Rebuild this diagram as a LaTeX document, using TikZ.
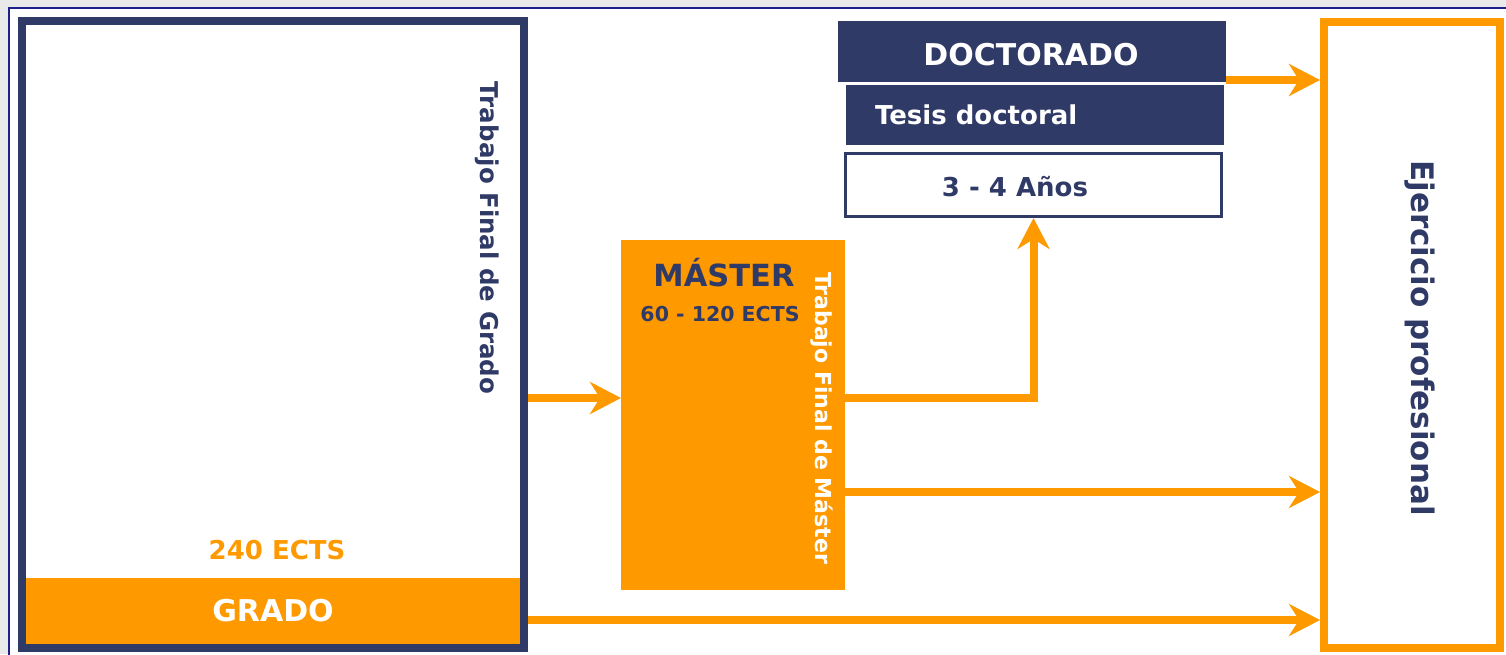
\documentclass[tikz,border=0pt]{standalone}
\usepackage{fontspec}
\setmainfont{DejaVu Sans}
\usetikzlibrary{arrows.meta}
\definecolor{navy}{RGB}{48,58,102}
\definecolor{orng}{RGB}{255,153,0}
\definecolor{bggray}{RGB}{233,233,233}
\definecolor{framecol}{RGB}{30,30,140}
\tikzset{
  fs/.style={font=\fontsize{#1}{#1}\selectfont\bfseries},
  txt/.style={inner sep=0pt, outer sep=0pt},
  arr/.style={draw=orng, line width=8pt, -{Stealth[length=31pt,width=32pt,inset=10pt]}},
  navybox/.style={fill=navy, inner sep=0pt, outer sep=0pt},
}
\begin{document}
\begin{tikzpicture}[x=1pt,y=-1pt]
\useasboundingbox (0,0) rectangle (1506,654);
\fill[bggray] (0,0) rectangle (1506,654);
\filldraw[fill=white, draw=framecol, line width=1.5pt] (9,8) rectangle (1520,670);

% Grado box
\node[draw=navy, fill=white, line width=8pt, minimum width=502pt, minimum height=627pt, inner sep=0pt] (grado) at (273,334.5) {};
\fill[orng] (26,578) rectangle (520,644);
\node[txt, fs=30, text=white] (gradot) at (273,611) {GRADO};
\node[txt, fs=26, text=orng] (gects) at (277,550) {240 ECTS};
\node[txt, fs=24.5, text=navy, rotate=-90] (tfg) at (487,238) {Trabajo Final de Grado};

% Master box
\node[fill=orng, minimum width=224pt, minimum height=350pt, inner sep=0pt, outer sep=0pt] (master) at (733,415) {};
\node[txt, fs=30.5, text=navy] (mastert) at (724,273) {MÁSTER};
\node[txt, fs=20.5, text=navy] (mects) at (720,314) {60 - 120 ECTS};
\node[txt, fs=22, text=white, rotate=-90] (tfm) at (822,418) {Trabajo Final de Máster};

% Doctorado
\node[navybox, minimum width=388pt, minimum height=61pt] (doc) at (1032,51.5) {};
\node[txt, fs=30, text=white] (doct) at (1031,55) {DOCTORADO};
\node[navybox, minimum width=378pt, minimum height=60pt] (tesis) at (1035,115) {};
\node[txt, fs=26, text=white, anchor=west] (tesist) at (875,115) {Tesis doctoral};
\node[draw=navy, fill=white, line width=3pt, minimum width=376pt, minimum height=63pt, inner sep=0pt] (anos) at (1033.5,185) {};
\node[txt, fs=26, text=navy] (anost) at (1015,187) {3 - 4 Años};

% Ejercicio profesional
\node[draw=orng, fill=white, line width=8pt, minimum width=176pt, minimum height=626pt, inner sep=0pt] (ejer) at (1412,335) {};
\node[txt, fs=31, text=navy, rotate=-90] (ejert) at (1420,338) {Ejercicio profesional};

% helper coordinates
\coordinate (y80) at (0,80);
\coordinate (y398) at (0,398);
\coordinate (y492) at (0,492);
\coordinate (y620) at (0,620);

% connectors
\draw[arr] (grado.east |- y398) -- (master.west |- y398);
\draw[arr] (master.east |- y398) -| (anos.south);
\draw[arr] (master.east |- y492) -- (ejer.west |- y492);
\draw[arr] (grado.east |- y620) -- (ejer.west |- y620);
\draw[arr] (doc.east |- y80) -- (ejer.west |- y80);
\end{tikzpicture}
\end{document}
